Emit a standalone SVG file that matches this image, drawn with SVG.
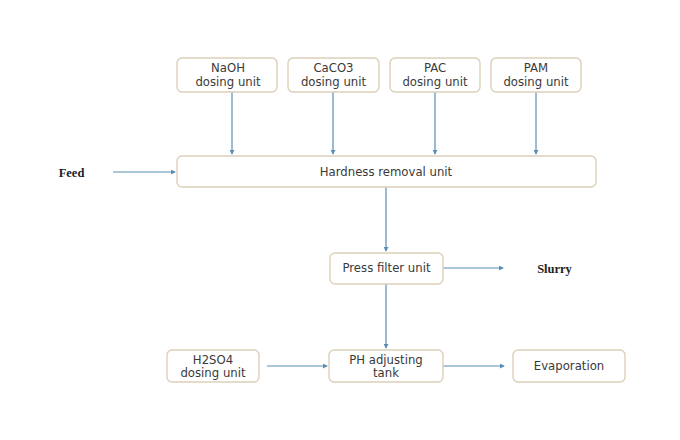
<svg xmlns="http://www.w3.org/2000/svg" width="680" height="440" viewBox="0 0 680 440">
<style>
.box{fill:#ffffff;stroke:#ddd0ba;stroke-width:1.4}
.t{font-family:"DejaVu Sans","Noto Sans",sans-serif;font-size:11.7px;fill:#3a3a3a;text-anchor:middle}
.s{font-family:"Liberation Serif","Times New Roman",serif;font-size:12.5px;font-weight:bold;fill:#222222;text-anchor:middle}
.c{stroke:#5a8db3;stroke-width:1.2;fill:none;marker-end:url(#ah)}
</style>
<defs>
<marker id="ah" viewBox="0 0 6 6" refX="5" refY="3" markerWidth="5" markerHeight="5" markerUnits="userSpaceOnUse" orient="auto">
<path d="M0,0 L6,3 L0,6 z" fill="#5a8db3"/>
</marker>
</defs>
<rect width="680" height="440" fill="#ffffff"/>
<g id="connectors">
<line class="c" x1="232" y1="92" x2="232" y2="154"/>
<line class="c" x1="333" y1="92" x2="333" y2="154"/>
<line class="c" x1="435" y1="92" x2="435" y2="154"/>
<line class="c" x1="536" y1="92" x2="536" y2="154"/>
<line class="c" x1="113" y1="172" x2="175" y2="172"/>
<line class="c" x1="386" y1="187" x2="386" y2="251"/>
<line class="c" x1="443" y1="268" x2="503" y2="268"/>
<line class="c" x1="386" y1="284" x2="386" y2="348"/>
<line class="c" x1="267" y1="366" x2="327" y2="366"/>
<line class="c" x1="443" y1="366" x2="504" y2="366"/>
</g>
<g id="naoh"><rect class="box" x="177" y="58" width="100" height="34" rx="5"/><text class="t" x="228" y="72">NaOH</text><text class="t" x="228" y="85.5">dosing unit</text></g>
<g id="caco3"><rect class="box" x="288" y="58" width="91" height="34" rx="5"/><text class="t" x="333.5" y="72">CaCO3</text><text class="t" x="333.5" y="85.5">dosing unit</text></g>
<g id="pac"><rect class="box" x="390" y="58" width="90" height="34" rx="5"/><text class="t" x="435" y="72">PAC</text><text class="t" x="435" y="85.5">dosing unit</text></g>
<g id="pam"><rect class="box" x="491" y="58" width="90" height="34" rx="5"/><text class="t" x="536" y="72">PAM</text><text class="t" x="536" y="85.5">dosing unit</text></g>
<g id="feed"><text class="s" x="71.5" y="176.5">Feed</text></g>
<g id="hardness"><rect class="box" x="177" y="156" width="419" height="31" rx="5"/><text class="t" x="386" y="176">Hardness removal unit</text></g>
<g id="press"><rect class="box" x="330" y="253" width="113" height="31" rx="5"/><text class="t" x="386.5" y="272">Press filter unit</text></g>
<g id="slurry"><text class="s" x="554.5" y="272.5">Slurry</text></g>
<g id="h2so4"><rect class="box" x="167" y="350" width="92" height="32" rx="5"/><text class="t" x="213" y="363.5">H2SO4</text><text class="t" x="213" y="377">dosing unit</text></g>
<g id="ph"><rect class="box" x="329" y="350" width="114" height="32" rx="5"/><text class="t" x="386" y="363.5">PH adjusting</text><text class="t" x="386" y="377">tank</text></g>
<g id="evap"><rect class="box" x="513" y="350" width="112" height="32" rx="5"/><text class="t" x="569" y="370">Evaporation</text></g>
</svg>
